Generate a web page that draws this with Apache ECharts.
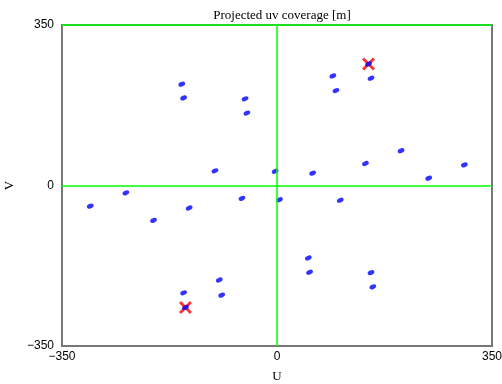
<!DOCTYPE html>
<html>
<head>
<meta charset="utf-8">
<script src="https://cdn.jsdelivr.net/npm/echarts@6/dist/echarts.min.js"></script>
<style>
  html, body { margin: 0; padding: 0; background: #fff; }
  #main { width: 502px; height: 384px; }
</style>
</head>
<body>
<div id="main"></div>
<script>
// uv track samples [m]
var trackU = [-155, -152, -52, -49, 91, 96, 153, 149,
              -304, -246, -201, -143, -101, -57, -3, 4, 58, 103, 144, 202, 247, 305,
              51, 53, 153, 156, -94, -90, -152, -149];
var trackV = [221, 191, 189, 158, 239, 207, 234, 265,
              -45, -16, -76, -49, 32, -28, 31, -31, 27, -32, 48, 76, 16, 45,
              -158, -189, -190, -221, -206, -239, -234, -266];

// highlighted baseline (red crosses)
var markU = [149, -149];
var markV = [265, -266];

var axisTicks = [-350, 0, 350];

function pairs(us, vs) {
  var arr = [];
  for (var i = 0; i < us.length; i++) arr.push([us[i], vs[i]]);
  return arr;
}

function fmt(v) {
  return String(v).replace('-', '\u2212');
}

var crossPath = 'path://M0,1.6 L1.6,0 L5,3.4 L8.4,0 L10,1.6 L6.6,5 L10,8.4 L8.4,10 L5,6.6 L1.6,10 L0,8.4 L3.4,5 Z';

var myChart = echarts.init(document.getElementById('main'));

myChart.setOption({
  animation: false,
  title: {
    text: 'Projected uv coverage [m]',
    left: 277,
    textAlign: 'center',
    top: 4,
    textStyle: {
      fontFamily: 'Liberation Serif',
      fontSize: 13,
      fontWeight: 'normal',
      color: '#000'
    }
  },
  grid: {
    left: 62,
    right: 10,
    top: 25,
    bottom: 38,
    outerBoundsMode: 'none',
    containLabel: false,
    show: true,
    borderColor: '#777',
    borderWidth: 2,
    backgroundColor: '#fff'
  },
  xAxis: {
    type: 'value',
    min: axisTicks[0],
    max: axisTicks[2],
    interval: 350,
    name: 'U',
    nameLocation: 'middle',
    nameGap: 24,
    nameTextStyle: { fontFamily: 'Liberation Serif', fontSize: 13, color: '#000' },
    axisLine: { show: false },
    axisTick: { show: false },
    splitLine: { show: false },
    axisLabel: {
      margin: 5,
      fontFamily: 'Liberation Sans',
      fontSize: 12,
      color: '#000',
      formatter: fmt
    }
  },
  yAxis: {
    type: 'value',
    min: axisTicks[0],
    max: axisTicks[2],
    interval: 350,
    name: 'V',
    nameLocation: 'middle',
    nameGap: 43,
    nameTextStyle: { fontFamily: 'Liberation Serif', fontSize: 13, color: '#000' },
    axisLine: { show: false },
    axisTick: { show: false },
    splitLine: { show: false },
    axisLabel: {
      margin: 8,
      fontFamily: 'Liberation Sans',
      fontSize: 12,
      color: '#000',
      formatter: fmt
    }
  },
  series: [
    {
      type: 'scatter',
      data: pairs(markU, markV),
      symbol: crossPath,
      symbolSize: 13,
      itemStyle: { color: '#ff0000' },
      silent: true,
      z: 2
    },
    {
      type: 'scatter',
      data: pairs(trackU, trackV),
      symbol: 'circle',
      symbolSize: [7, 4.5],
      symbolRotate: 25,
      itemStyle: { color: '#0000ff' },
      silent: true,
      z: 3,
      markLine: {
        silent: true,
        symbol: 'none',
        label: { show: false },
        lineStyle: { color: '#00ff00', width: 1.5, type: 'solid' },
        data: [{ xAxis: 0 }, { yAxis: 0 }, { yAxis: 350 }]
      }
    }
  ]
});
</script>
</body>
</html>
